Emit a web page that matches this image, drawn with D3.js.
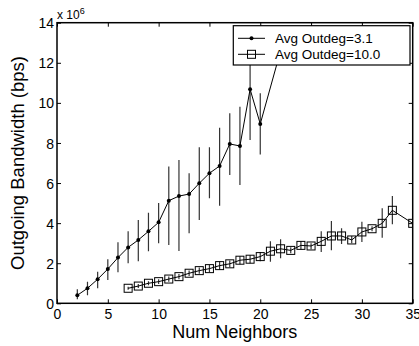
<!DOCTYPE html>
<html>
<head>
<meta charset="utf-8">
<script src="https://cdn.jsdelivr.net/npm/d3@7"></script>
<style>
html,body{margin:0;padding:0;background:#fff;}
svg{display:block;font-family:"Liberation Sans",Arial,Helvetica,sans-serif;}
</style>
</head>
<body>
<svg id="chart" width="419" height="346"></svg>
<script>
// Series 1: Avg Outdeg=3.1 (values in units of 1e6 bps)
const s1X  = [2, 3, 4, 5, 6, 7, 8, 9, 10, 11, 12, 13, 14, 15, 16, 17, 18, 19, 20, 22];
const s1Y  = [0.4, 0.75, 1.2, 1.71, 2.28, 2.79, 3.16, 3.59, 4.04, 5.12, 5.35, 5.45, 5.99, 6.49, 6.85, 7.95, 7.85, 10.68, 8.95, 12.6];
const s1Lo = [0.2, 0.4, 0.75, 1.16, 1.55, 2.0, 2.1, 2.6, 3.0, 2.91, 2.61, 3.49, 4.16, 5.24, 4.87, 6.4, 5.9, 8.15, 7.43, 12.0];
const s1Hi = [0.7, 1.08, 1.58, 2.2, 3.04, 3.6, 4.15, 4.52, 5.0, 6.82, 7.15, 6.49, 7.78, 7.78, 8.76, 9.48, 9.81, 13.2, 10.48, 13.2];

// Series 2: Avg Outdeg=10.0
const s2X  = [7, 8, 9, 10, 11, 12, 13, 14, 15, 16, 17, 18, 19, 20, 21, 22, 23, 24, 25, 26, 27, 28, 29, 30, 31, 32, 33, 35];
const s2Y  = [0.75, 0.86, 1.0, 1.08, 1.21, 1.33, 1.5, 1.63, 1.73, 1.88, 1.97, 2.15, 2.2, 2.33, 2.6, 2.72, 2.64, 2.89, 2.86, 3.09, 3.36, 3.36, 3.16, 3.56, 3.72, 3.99, 4.64, 3.99];
const s2Lo = [0.68, 0.76, 0.9, 0.96, 1.08, 1.2, 1.36, 1.48, 1.55, 1.68, 1.8, 1.95, 2.0, 2.1, 2.07, 2.25, 2.5, 2.7, 2.7, 2.56, 2.65, 2.96, 3.0, 3.06, 3.6, 3.27, 3.94, 3.99];
const s2Hi = [0.82, 0.96, 1.1, 1.2, 1.34, 1.46, 1.64, 1.78, 1.91, 2.08, 2.14, 2.35, 2.4, 2.56, 3.1, 3.19, 2.8, 3.1, 3.0, 3.6, 4.1, 3.74, 3.36, 4.07, 3.85, 4.74, 5.35, 3.99];

const xTicks = [0, 5, 10, 15, 20, 25, 30, 35];
const yTicks = [0, 2, 4, 6, 8, 10, 12, 14];
const seriesNames = ["Avg Outdeg=3.1", "Avg Outdeg=10.0"];
const xTitle = "Num Neighbors";
const yTitle = "Outgoing Bandwidth (bps)";

const W = 419, H = 346;
const m = {left: 57, right: 6.3, top: 22.7, bottom: 42.7};
const pw = W - m.left - m.right, ph = H - m.top - m.bottom;

const svg = d3.select("#chart");
const x = d3.scaleLinear().domain([0, 35]).range([m.left, m.left + pw]);
const y = d3.scaleLinear().domain([0, 14]).range([m.top + ph, m.top]);

svg.append("defs").append("clipPath").attr("id", "clip")
  .append("rect").attr("x", m.left).attr("y", m.top).attr("width", pw).attr("height", ph);

const tickLen = 4;
const gx = svg.append("g").attr("transform", `translate(0,${m.top + ph})`)
  .call(d3.axisBottom(x).tickValues(xTicks).tickSizeInner(-tickLen).tickSizeOuter(0).tickPadding(6).tickFormat(d3.format("d")));
const gxTop = svg.append("g").attr("transform", `translate(0,${m.top})`)
  .call(d3.axisTop(x).tickValues(xTicks).tickSizeInner(-tickLen).tickSizeOuter(0).tickFormat(""));
const gy = svg.append("g").attr("transform", `translate(${m.left},0)`)
  .call(d3.axisLeft(y).tickValues(yTicks).tickSizeInner(-tickLen).tickSizeOuter(0).tickPadding(3).tickFormat(d3.format("d")));
const gyR = svg.append("g").attr("transform", `translate(${m.left + pw},0)`)
  .call(d3.axisRight(y).tickValues(yTicks).tickSizeInner(-tickLen).tickSizeOuter(0).tickFormat(""));
[gx, gxTop, gy, gyR].forEach(g => {
  g.select(".domain").remove();
  g.selectAll("line").attr("stroke", "#000");
  g.selectAll("text").attr("fill", "#000").attr("font-size", 14)
    .attr("font-family", '"Liberation Sans",Arial,sans-serif');
});
gy.selectAll("text").attr("dy", "0.36em");

svg.append("rect").attr("x", m.left).attr("y", m.top).attr("width", pw).attr("height", ph)
  .attr("fill", "none").attr("stroke", "#000").attr("stroke-width", 1.5);

const plot = svg.append("g").attr("clip-path", "url(#clip)");

function drawSeries(xs, ys, lo, hi) {
  const pts = xs.map((d, i) => ({x: d, y: ys[i], lo: lo[i], hi: hi[i]}));
  plot.append("g").selectAll("line").data(pts).enter().append("line")
    .attr("x1", d => x(d.x)).attr("x2", d => x(d.x))
    .attr("y1", d => y(d.lo)).attr("y2", d => y(d.hi))
    .attr("stroke", "#333").attr("stroke-width", 1.2);
  plot.append("path").datum(pts)
    .attr("d", d3.line().x(d => x(d.x)).y(d => y(d.y)))
    .attr("fill", "none").attr("stroke", "#000").attr("stroke-width", 1);
  return pts;
}
const p1 = drawSeries(s1X, s1Y, s1Lo, s1Hi);
plot.append("g").selectAll("circle").data(p1).enter().append("circle")
  .attr("cx", d => x(d.x)).attr("cy", d => y(d.y)).attr("r", 2).attr("fill", "#000");
const p2 = drawSeries(s2X, s2Y, s2Lo, s2Hi);
const sq = 8;
plot.append("g").selectAll("rect").data(p2).enter().append("rect")
  .attr("x", d => x(d.x) - sq / 2).attr("y", d => y(d.y) - sq / 2)
  .attr("width", sq).attr("height", sq)
  .attr("fill", "none").attr("stroke", "#000").attr("stroke-width", 1);

const ex = svg.append("text").attr("x", m.left).attr("y", 18.5).attr("font-size", 12).attr("fill", "#000");
ex.append("tspan").text("x 10");
ex.append("tspan").attr("dy", -5).attr("font-size", 9).text("6");

svg.append("text").attr("x", m.left + pw / 2).attr("y", 338).attr("text-anchor", "middle")
  .attr("font-size", 18).attr("fill", "#000").text(xTitle);
svg.append("text").attr("transform", `translate(24,${m.top + ph / 2}) rotate(-90)`)
  .attr("text-anchor", "middle").attr("font-size", 18.5).attr("fill", "#000").text(yTitle);

const lg = svg.append("g");
lg.append("rect").attr("x", 233.3).attr("y", 25.7).attr("width", 176.7).attr("height", 39.3)
  .attr("fill", "#fff").attr("stroke", "#000").attr("stroke-width", 1.2);
const rows = [38.3, 54.3];
seriesNames.forEach((name, i) => {
  const ry = rows[i];
  lg.append("line").attr("x1", 238).attr("x2", 265).attr("y1", ry).attr("y2", ry)
    .attr("stroke", "#000").attr("stroke-width", 1);
  if (i === 0) {
    lg.append("circle").attr("cx", 251.5).attr("cy", ry).attr("r", 2).attr("fill", "#000");
  } else {
    lg.append("rect").attr("x", 251.5 - sq / 2).attr("y", ry - sq / 2).attr("width", sq).attr("height", sq)
      .attr("fill", "none").attr("stroke", "#000");
  }
  lg.append("text").attr("x", 275).attr("y", ry).attr("dy", "0.36em")
    .attr("font-size", 13.5).attr("fill", "#000").text(name);
});
</script>
</body>
</html>
